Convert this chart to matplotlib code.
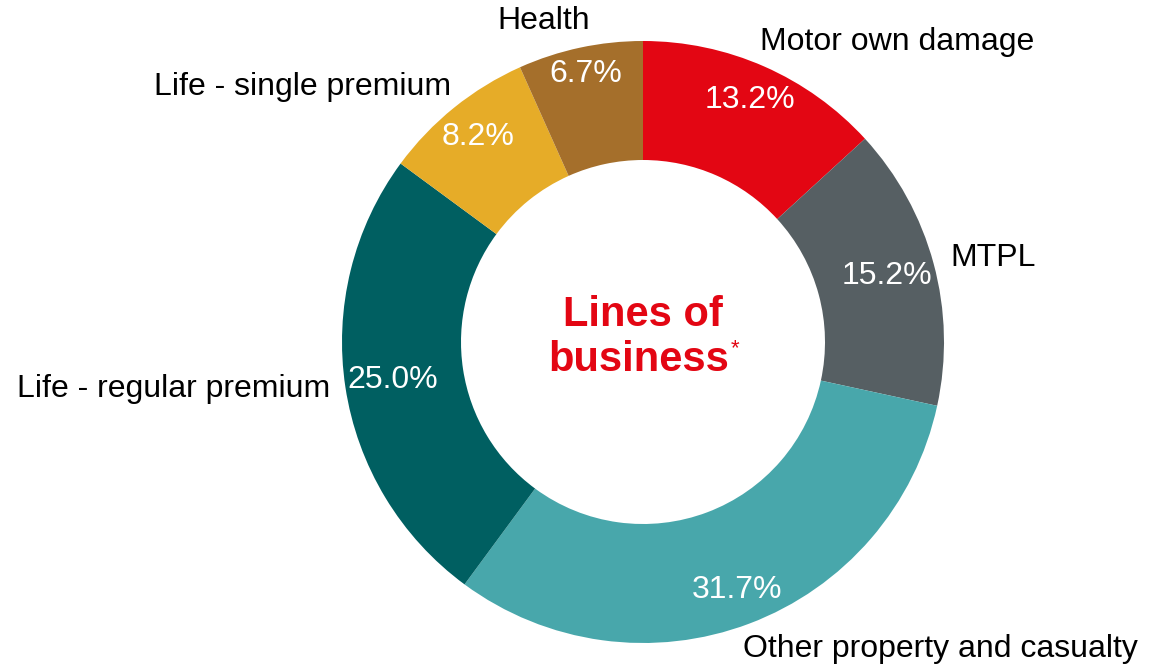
import matplotlib
matplotlib.use("Agg")
import matplotlib.pyplot as plt
import numpy as np

categories = ["Motor own damage", "MTPL", "Other property and casualty",
              "Life - regular premium", "Life - single premium", "Health"]
shares = [13.2, 15.2, 31.7, 25.0, 8.2, 6.7]
colors = ["#E30613", "#565F63", "#48A7AB", "#005F61", "#E6AC28", "#A56F2B"]
center_title = ["Lines of", "business"]

# layout (style)
label_dist = [1.09, 1.07, 1.09, 1.05, 1.09, 1.09]
label_dx = [-15, -4, -16, 0, 14, 16]
pct_dist = [0.88, 0.84, 0.88, 0.84, 0.875, 0.91]

plt.rcParams['font.family'] = ['Liberation Sans', 'DejaVu Sans']

W, H = 1165, 666
fig = plt.figure(figsize=(W / 100, H / 100), dpi=100)
ax = fig.add_axes([0, 0, 1, 1])

cx, cy = 643, H - 342
R, r_in = 301, 182

wedges, _ = ax.pie(shares, colors=colors, startangle=90, counterclock=False,
                   center=(cx, cy), radius=R,
                   wedgeprops=dict(width=R - r_in, linewidth=0))

ax.set_xlim(0, W)
ax.set_ylim(0, H)
ax.set_aspect('equal')
ax.axis('off')

for i, w in enumerate(wedges):
    ang = np.deg2rad((w.theta1 + w.theta2) / 2)
    c, s = np.cos(ang), np.sin(ang)
    # percentage label
    ax.text(cx + pct_dist[i] * R * c, cy + pct_dist[i] * R * s,
            f"{shares[i]:.1f}%", color="white", fontsize=23,
            ha="center", va="center")
    # category label
    ax.text(cx + label_dist[i] * R * c + label_dx[i], cy + label_dist[i] * R * s,
            categories[i], color="black", fontsize=23,
            ha="left" if c > 0 else "right", va="center")

red = "#E30613"
ax.text(cx, cy + 27, center_title[0], color=red, fontsize=30,
        fontweight="bold", ha="center", va="center")
t2 = ax.text(cx - 4, cy - 18, center_title[1], color=red, fontsize=30,
             fontweight="bold", ha="center", va="center")
ax.annotate("*", xy=(1, 1), xycoords=t2, xytext=(1, 1),
            textcoords="offset points", color=red, fontsize=16,
            ha="left", va="top")

fig.savefig("out.png", dpi=100)
